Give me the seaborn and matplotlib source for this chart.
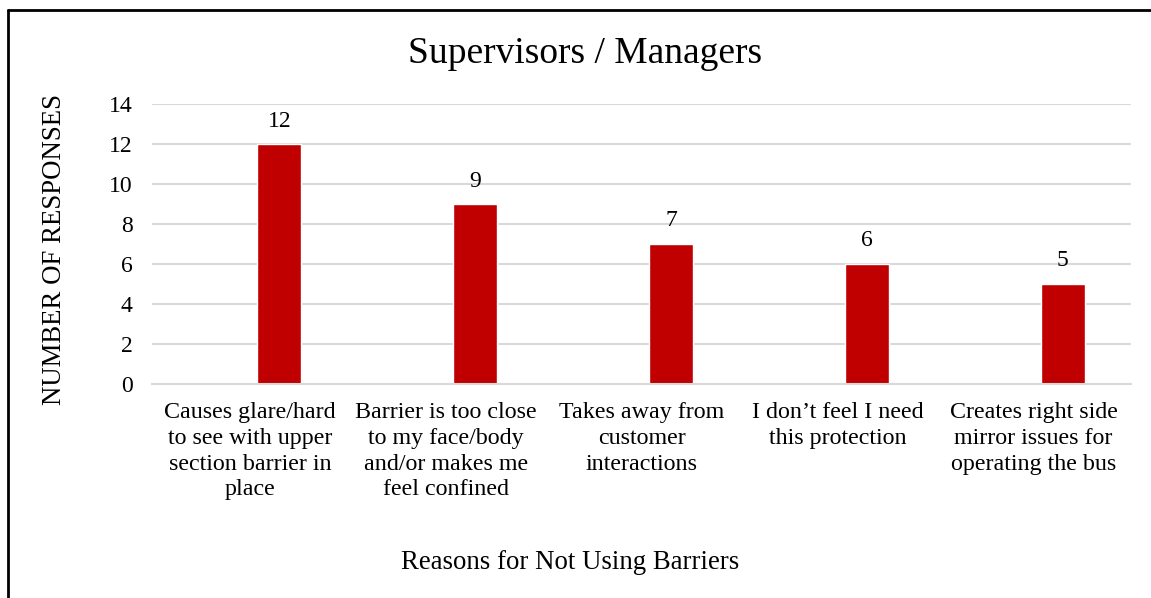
import numpy as np
import pandas as pd
import matplotlib
matplotlib.use("Agg")
import matplotlib.pyplot as plt
import seaborn as sns
from matplotlib.lines import Line2D

categories = [
    "Causes glare/hard\nto see with upper\nsection barrier in\nplace",
    "Barrier is too close\nto my face/body\nand/or makes me\nfeel confined",
    "Takes away from\ncustomer\ninteractions",
    "I don\u2019t feel I need\nthis protection",
    "Creates right side\nmirror issues for\noperating the bus",
]
responses = [12, 9, 7, 6, 5]
yticks = [0, 2, 4, 6, 8, 10, 12, 14]

sns.set_theme(style="white")
plt.rcParams['font.family'] = ['Liberation Serif', 'DejaVu Serif']
plt.rcParams['text.color'] = 'black'
plt.rcParams['axes.labelcolor'] = 'black'
plt.rcParams['xtick.color'] = 'black'
plt.rcParams['ytick.color'] = 'black'

fig = plt.figure(figsize=(11.51, 5.98), dpi=100)
ax = fig.add_axes([0.132, 0.358, 0.851, 0.468])

idx = np.arange(len(categories))
df = pd.DataFrame({"pos": idx + 0.15, "val": responses})
sns.barplot(data=df, x="pos", y="val", native_scale=True, width=0.225,
            color="#C00000", saturation=1, ax=ax, errorbar=None)

for c in ax.containers:
    ax.bar_label(c, labels=[str(v) for v in responses], padding=9,
                 fontsize=17, color="black")

ax.set_xlim(-0.5, len(categories) - 0.5)
ax.set_ylim(0, 14)
ax.set_yticks(yticks)
ax.set_yticklabels([str(t) for t in yticks], fontsize=17)
ax.set_xticks(idx)
ax.set_xticklabels(categories, fontsize=17.3, linespacing=1.3)
ax.tick_params(axis='both', length=0, colors='black')
ax.tick_params(axis='x', pad=13)
ax.tick_params(axis='y', pad=14)
ax.yaxis.grid(True, color="#d9d9d9", linewidth=1.5)
ax.set_axisbelow(True)
for s in ["top", "right", "left"]:
    ax.spines[s].set_visible(False)
ax.spines["bottom"].set_color("#d9d9d9")
ax.spines["bottom"].set_linewidth(1.5)

ax.set_xlabel("")
ax.set_ylabel("")
fig.text(0.0475, 0.583, "NUMBER OF RESPONSES", rotation=90, fontsize=19.3,
         ha="center", va="center")
fig.text(0.495, 0.06, "Reasons for Not Using Barriers", fontsize=19.3,
         ha="center", va="center")
fig.text(0.508, 0.91, "Supervisors / Managers", fontsize=27,
         ha="center", va="center")

# chart border (left and top visible)
fig.add_artist(Line2D([0.007, 0.007], [0.0, 0.983], transform=fig.transFigure,
                      color="black", linewidth=2))
fig.add_artist(Line2D([0.007, 1.0], [0.983, 0.983], transform=fig.transFigure,
                      color="black", linewidth=2))

fig.savefig("out.png", dpi=100)
